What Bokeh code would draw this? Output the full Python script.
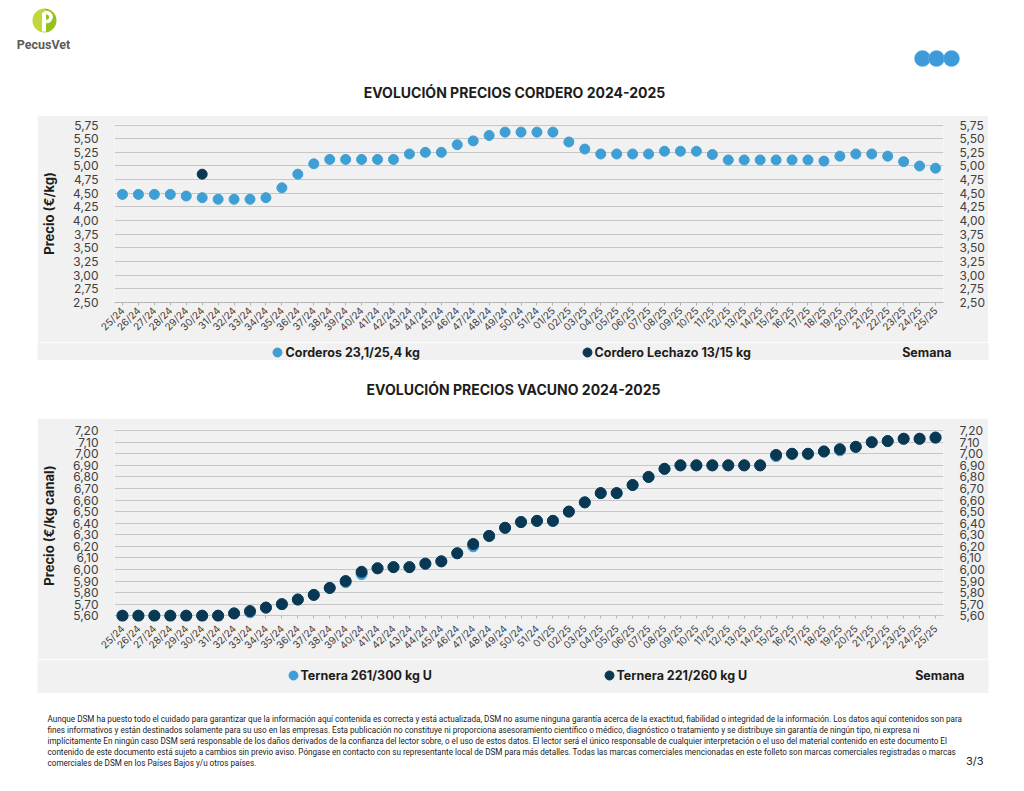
import math
from bokeh.plotting import figure
from bokeh.models import (FactorRange, Range1d, FixedTicker, CustomJSTickFormatter,
                          LinearAxis, CategoricalAxis, Spacer)
from bokeh.layouts import column, row
from bokeh.embed import file_html
from bokeh.resources import INLINE
from bokeh.core.properties import value

# ---------------- data ----------------
weeks = ["25/24", "26/24", "27/24", "28/24", "29/24", "30/24", "31/24", "32/24", "33/24",
         "34/24", "35/24", "36/24", "37/24", "38/24", "39/24", "40/24", "41/24", "42/24",
         "43/24", "44/24", "45/24", "46/24", "47/24", "48/24", "49/24", "50/24", "51/24",
         "01/25", "02/25", "03/25", "04/25", "05/25", "06/25", "07/25", "08/25", "09/25",
         "10/25", "11/25", "12/25", "13/25", "14/25", "15/25", "16/25", "17/25", "18/25",
         "19/25", "20/25", "21/25", "22/25", "23/25", "24/25", "25/25"]

corderos = [4.48, 4.48, 4.48, 4.48, 4.45, 4.42, 4.39, 4.39, 4.39, 4.42, 4.60, 4.85, 5.04,
            5.12, 5.12, 5.12, 5.12, 5.12, 5.22, 5.25, 5.25, 5.39, 5.46, 5.56, 5.62, 5.62,
            5.62, 5.62, 5.44, 5.31, 5.22, 5.22, 5.22, 5.22, 5.27, 5.27, 5.27, 5.21, 5.11,
            5.11, 5.11, 5.11, 5.11, 5.11, 5.09, 5.18, 5.22, 5.22, 5.18, 5.08, 5.00, 4.96]

lechazo_weeks = ["30/24"]
lechazo = [4.85]

ternera_261_300 = [5.60, 5.60, 5.60, 5.60, 5.60, 5.60, 5.60, 5.62, 5.63, 5.67, 5.70, 5.74,
                   5.78, 5.84, 5.89, 5.96, 6.01, 6.02, 6.02, 6.05, 6.07, 6.14, 6.20, 6.29,
                   6.36, 6.41, 6.42, 6.42, 6.50, 6.58, 6.66, 6.66, 6.73, 6.80, 6.87, 6.90,
                   6.90, 6.90, 6.90, 6.90, 6.90, 6.98, 7.00, 7.00, 7.02, 7.03, 7.06, 7.10,
                   7.11, 7.13, 7.13, 7.14]

ternera_221_260 = [5.60, 5.60, 5.60, 5.60, 5.60, 5.60, 5.60, 5.62, 5.64, 5.67, 5.70, 5.74,
                   5.78, 5.84, 5.90, 5.98, 6.01, 6.02, 6.02, 6.05, 6.07, 6.14, 6.22, 6.29,
                   6.36, 6.41, 6.42, 6.42, 6.50, 6.58, 6.66, 6.66, 6.73, 6.80, 6.87, 6.90,
                   6.90, 6.90, 6.90, 6.90, 6.90, 6.99, 7.00, 7.00, 7.02, 7.04, 7.06, 7.10,
                   7.11, 7.13, 7.13, 7.14]

lamb_ticks = [2.50, 2.75, 3.00, 3.25, 3.50, 3.75, 4.00, 4.25, 4.50, 4.75, 5.00, 5.25, 5.50, 5.75]
beef_ticks = [5.60, 5.70, 5.80, 5.90, 6.00, 6.10, 6.20, 6.30, 6.40, 6.50, 6.60, 6.70, 6.80,
              6.90, 7.00, 7.10, 7.20]

title_lamb = "EVOLUCIÓN PRECIOS CORDERO 2024-2025"
title_beef = "EVOLUCIÓN PRECIOS VACUNO 2024-2025"
legend_lamb = ["Corderos 23,1/25,4 kg", "Cordero Lechazo 13/15 kg"]
legend_beef = ["Ternera 261/300 kg U", "Ternera 221/260 kg U"]
x_title = "Semana"

footer_lines = [
    "Aunque DSM ha puesto todo el cuidado para garantizar que la información aquí contenida es correcta y está actualizada, DSM no asume ninguna garantía acerca de la exactitud, fiabilidad o integridad de la información. Los datos aquí contenidos son para",
    "fines informativos y están destinados solamente para su uso en las empresas. Esta publicación no constituye ni proporciona asesoramiento científico o médico, diagnóstico o tratamiento y se distribuye sin garantía de ningún tipo, ni expresa ni",
    "implícitamente En ningún caso DSM será responsable de los daños derivados de la confianza del lector sobre, o el uso de estos datos. El lector será el único responsable de cualquier interpretación o el uso del material contenido en este documento El",
    "contenido de este documento está sujeto a cambios sin previo aviso. Póngase en contacto con su representante local de DSM para más detalles. Todas las marcas comerciales mencionadas en este folleto son marcas comerciales registradas o marcas",
    "comerciales de DSM en los Países Bajos y/u otros países.",
]

# ---------------- style ----------------
FONT = "Inter"
PANEL = "#f1f1f1"
GRID = "#c6c6c6"
LIGHT = "#3f9fd4"
DARK = "#0a3853"
TICK = "#404040"
INK = "#1d1d1b"
PAGE_W = 1016


def strip(top, bottom, gray=False):
    p = figure(width=PAGE_W, height=bottom - top, x_range=Range1d(0, PAGE_W),
               y_range=Range1d(bottom, top), output_backend="svg", toolbar_location=None,
               x_axis_type=None, y_axis_type=None, min_border=0, outline_line_color=None,
               background_fill_color="white", border_fill_color="white")
    p.grid.visible = False
    if gray:
        p.quad(left=[37], right=[988], top=[top], bottom=[bottom], fill_color=PANEL,
               line_color=None)
    return p


def txt(p, x, y, s, size, bold=False, align="left", color=INK, font=FONT):
    p.text(x=[x], y=[y], text=[s], text_font=value(font), text_font_size=value(size),
           text_font_style="bold" if bold else "normal", text_align=align,
           text_baseline="middle", text_color=color)


def chart(height, y_start, y_end, ticks, ylabel, top, bottom, label_standoff):
    p = figure(x_range=FactorRange(factors=weeks), y_range=Range1d(y_start, y_end),
               width=951, height=height, output_backend="svg", toolbar_location=None,
               min_border_left=65, min_border_right=41, min_border_top=top,
               min_border_bottom=bottom, background_fill_color=PANEL,
               border_fill_color=PANEL, outline_line_color=None)
    fmt = CustomJSTickFormatter(code="return tick.toFixed(2).replace('.', ',');")
    p.yaxis.ticker = FixedTicker(ticks=ticks)
    p.yaxis.formatter = fmt
    right = LinearAxis(ticker=FixedTicker(ticks=ticks), formatter=fmt)
    p.add_layout(right, "right")
    for ax in p.yaxis:
        ax.axis_line_color = None
        ax.major_tick_line_color = None
        ax.minor_tick_line_color = None
        ax.major_label_text_font = FONT
        ax.major_label_text_font_size = "12px"
        ax.major_label_text_color = TICK
        ax.major_label_standoff = 10
    p.yaxis[0].axis_label = ylabel
    p.yaxis[0].axis_label_text_font = FONT
    p.yaxis[0].axis_label_text_font_style = "bold"
    p.yaxis[0].axis_label_text_font_size = "13px"
    p.yaxis[0].axis_label_text_color = INK
    p.yaxis[0].axis_label_standoff = 13
    ax = p.xaxis[0]
    ax.major_label_orientation = math.pi / 4
    ax.major_label_text_font = FONT
    ax.major_label_text_font_size = "10px"
    ax.major_label_text_color = TICK
    ax.major_label_standoff = label_standoff
    ax.axis_line_color = "#b4b4b4"
    ax.major_tick_line_color = "#b4b4b4"
    ax.major_tick_out = 3
    ax.major_tick_in = 0
    p.xgrid.visible = False
    p.ygrid.ticker = FixedTicker(ticks=ticks)
    p.ygrid.grid_line_color = GRID
    p.ygrid.grid_line_width = 1
    return p


# ---------------- header ----------------
head = strip(0, 115)
head.wedge(x=[44], y=[20], radius=12, start_angle=math.pi / 2, end_angle=3 * math.pi / 2,
           fill_color="#c3d63a", line_color=None)
head.wedge(x=[44], y=[20], radius=12, start_angle=-math.pi / 2, end_angle=math.pi / 2,
           fill_color="#94c11f", line_color=None)
head.rect(x=[43.5], y=[21.5], width=4, height=19, fill_color="white", line_color=None)
head.annular_wedge(x=[46], y=[16.5], inner_radius=2.6, outer_radius=6.3,
                   start_angle=-math.pi / 2, end_angle=math.pi / 2,
                   fill_color="white", line_color=None)
head.rect(x=[45], y=[12], width=2.5, height=3.7, fill_color="white", line_color=None)
head.rect(x=[45], y=[21], width=2.5, height=3.7, fill_color="white", line_color=None)
txt(head, 43, 44, "PecusVet", "12.5px", bold=True, align="center", color="#5b5b5b",
    font="Roboto")
head.circle(x=[922, 936, 951], y=[58, 58, 58], radius=8, fill_color="#3c9bd8",
            line_color="#6cb4e4", line_width=0.6)
txt(head, 514, 92, title_lamb, "14px", bold=True, align="center")

# ---------------- lamb chart ----------------
lamb = chart(227, 2.50, 5.76, lamb_ticks, "Precio (€/kg)", 9, 40, 3)
lamb.scatter(x=weeks, y=corderos, size=10, color=LIGHT)
lamb.scatter(x=lechazo_weeks, y=lechazo, size=10, color=DARK)

leg1 = strip(342, 360, gray=True)
leg1.scatter(x=[277], y=[352], size=9, color=LIGHT)
txt(leg1, 285, 352, legend_lamb[0], "12.5px", bold=True)
leg1.scatter(x=[587], y=[352], size=9, color=DARK)
txt(leg1, 594, 352, legend_lamb[1], "12.5px", bold=True)
txt(leg1, 951, 352, x_title, "12.5px", bold=True, align="right")

mid = strip(360, 418)
txt(mid, 513, 389, title_beef, "14px", bold=True, align="center")

# ---------------- beef chart ----------------
beef = chart(241, 5.55, 7.21, beef_ticks, "Precio (€/kg canal)", 11, 38, 2)
beef.xaxis[0].axis_line_color = None
beef.xaxis[0].major_tick_line_color = None
base = CategoricalAxis(fixed_location=5.60, major_label_text_alpha=0,
                       axis_line_color="#b4b4b4", major_tick_line_color="#b4b4b4",
                       major_tick_out=3, major_tick_in=0, level="underlay")
beef.add_layout(base, "below")
beef.scatter(x=weeks, y=ternera_261_300, size=11, color=LIGHT)
beef.scatter(x=weeks, y=ternera_221_260, size=11, color=DARK)

leg2 = strip(659, 693, gray=True)
leg2.scatter(x=[293], y=[675], size=9, color=LIGHT)
txt(leg2, 300, 675, legend_beef[0], "12.5px", bold=True)
leg2.scatter(x=[609], y=[675], size=9, color=DARK)
txt(leg2, 616, 675, legend_beef[1], "12.5px", bold=True)
txt(leg2, 964, 675, x_title, "12.5px", bold=True, align="right")

# ---------------- footer ----------------
foot = strip(693, 783)
for i, line in enumerate(footer_lines):
    txt(foot, 47, 718 + 11 * i, line, "8.15px", color="#222222", font="Roboto")
txt(foot, 983, 760, "3/3", "11px", align="right", color="#222222")

page = column(head,
              row(Spacer(width=37, height=227), lamb),
              leg1, mid,
              row(Spacer(width=37, height=241), beef),
              leg2, foot)

open("out.html", "w").write(file_html(page, INLINE))
